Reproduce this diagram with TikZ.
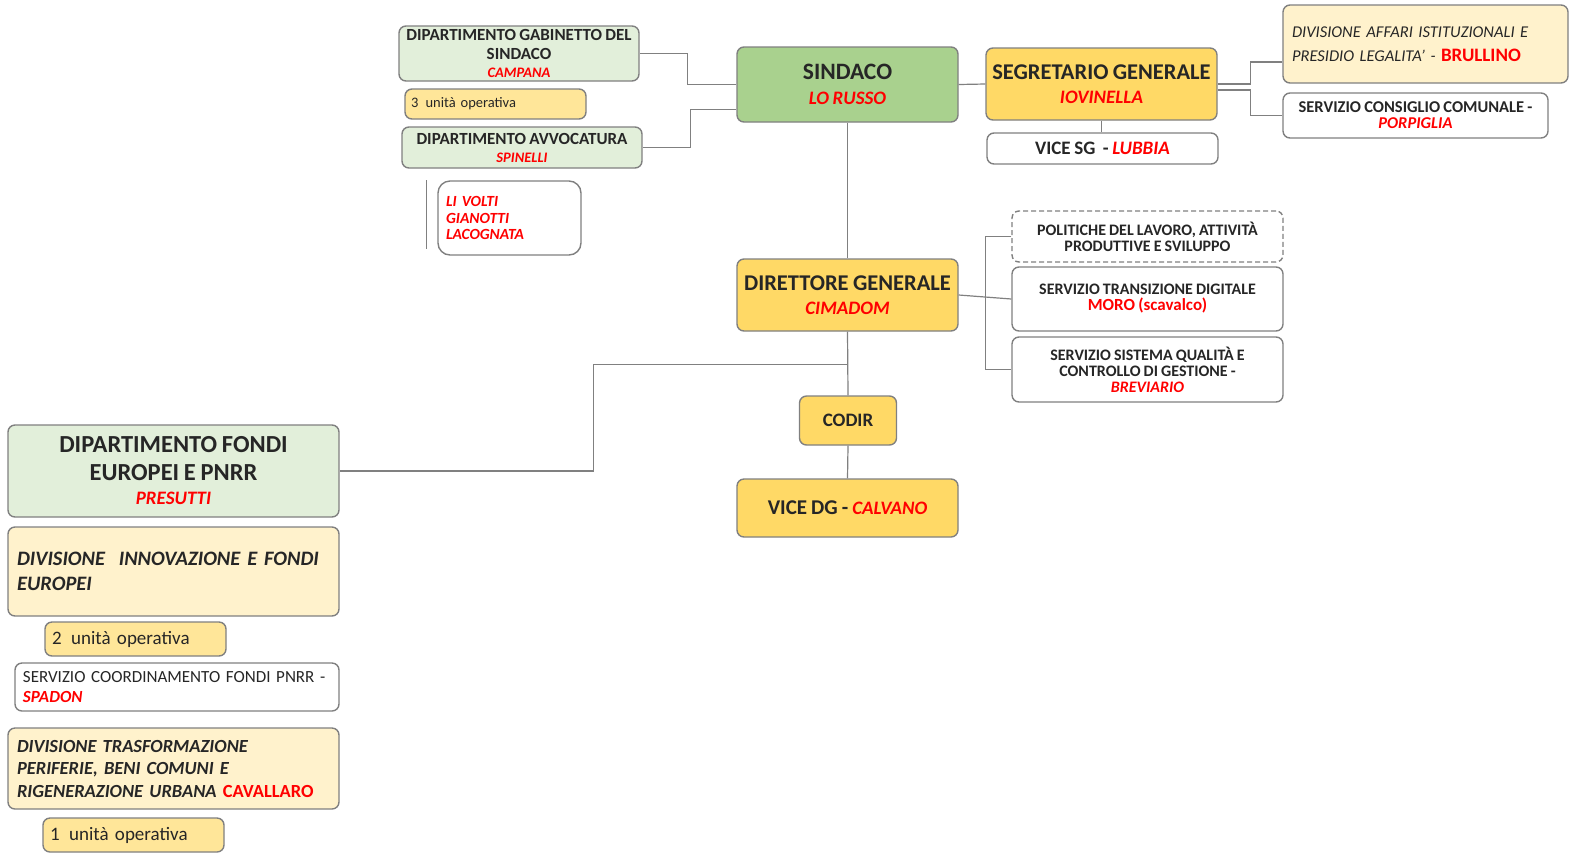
\documentclass[tikz,border=0pt]{standalone}
\usepackage{fontspec}
\setmainfont[WordSpace=0.85]{Carlito}
\usepackage{tikz}
\usetikzlibrary{positioning}
\definecolor{verde}{HTML}{A9D18E}
\definecolor{verdechiaro}{HTML}{E2EFDA}
\definecolor{giallo}{HTML}{FFD966}
\definecolor{gialloUO}{HTML}{FFE699}
\definecolor{crema}{HTML}{FFF2CC}
\definecolor{bordo}{HTML}{808080}
\definecolor{testo}{HTML}{262626}
\definecolor{rosso}{HTML}{FF0000}

\begin{document}
\begin{tikzpicture}[x=1pt,y=-1pt,line width=1.4pt,
	box/.style={draw=bordo,fill=white,rounded corners=7pt,inner sep=0pt,text=testo,align=center,font=\bfseries},
	conn/.style={draw=bordo,line width=1.2pt}]
	\useasboundingbox (0,0) rectangle (1573,855);
	
	% sindaco e dipartimenti
	\node[box,fill=verde,minimum width=221pt,minimum height=75pt,font=\bfseries\fontsize{23.5}{25}\selectfont] (sind) at (847.5,84.5)
	{SINDACO\\{\fontsize{19}{20}\selectfont\textcolor{rosso}{\itshape LO RUSSO}}};
	\node[box,fill=verdechiaro,minimum width=240pt,minimum height=55pt,font=\bfseries\fontsize{17}{18.5}\selectfont] (gab) at (519,53.5)
	{DIPARTIMENTO GABINETTO DEL\\SINDACO\\{\fontsize{14.5}{15}\selectfont\textcolor{rosso}{\itshape CAMPANA}}};
	\node[box,fill=gialloUO,minimum height=30pt,text width=169pt,inner xsep=6pt,align=left,font=\fontsize{14.5}{16}\selectfont] (uo3) at (495.5,104)
	{3\enspace unità operativa};
	\node[box,fill=verdechiaro,minimum width=240pt,minimum height=41pt,font=\bfseries\fontsize{17}{18}\selectfont] (avv) at (522,147.5)
	{DIPARTIMENTO AVVOCATURA\\{\fontsize{14.5}{15}\selectfont\textcolor{rosso}{\itshape SPINELLI}}};
	\node[box,rounded corners=12pt,minimum height=74pt,text width=127pt,inner xsep=8pt,align=left,text=rosso,font=\bfseries\itshape\fontsize{15.5}{16.5}\selectfont] (nomi) at (509.5,218)
	{LI VOLTI\\GIANOTTI\\LACOGNATA};
	
	% segreteria
	\node[box,fill=giallo,minimum width=231pt,minimum height=72pt,font=\bfseries\fontsize{22.5}{24}\selectfont] (segr) at (1101.5,84)
	{SEGRETARIO GENERALE\\{\fontsize{19}{20}\selectfont\textcolor{rosso}{\itshape IOVINELLA}}};
	\node[box,minimum width=231pt,minimum height=31pt,font=\bfseries\fontsize{19}{20}\selectfont] (vsg) at (1102.5,148.5)
	{VICE SG\ \ - \textcolor{rosso}{\itshape LUBBIA}};
	\node[box,fill=crema,minimum height=78pt,text width=267pt,inner xsep=9pt,align=left,font=\itshape\fontsize{16.5}{24}\selectfont] (aff) at (1425.5,44)
	{DIVISIONE AFFARI ISTITUZIONALI E\\PRESIDIO LEGALITA’ - {\upshape\bfseries\fontsize{19}{24}\selectfont\textcolor{rosso}{BRULLINO}}};
	\node[box,minimum width=265pt,minimum height=45pt,font=\bfseries\fontsize{16.5}{16}\selectfont] (cons) at (1415.5,115.5)
	{SERVIZIO CONSIGLIO COMUNALE -\\\textcolor{rosso}{\itshape PORPIGLIA}};
	
	% direzione generale
	\node[box,fill=giallo,minimum width=221pt,minimum height=72pt,font=\bfseries\fontsize{22.5}{24}\selectfont] (dg) at (847.5,295)
	{DIRETTORE GENERALE\\{\fontsize{19}{20}\selectfont\textcolor{rosso}{\itshape CIMADOM}}};
	\node[box,fill=giallo,minimum width=97pt,minimum height=49pt,font=\bfseries\fontsize{19}{20}\selectfont] (codir) at (848,420.5) {CODIR};
	\node[box,fill=giallo,minimum width=221pt,minimum height=58pt,font=\bfseries\fontsize{21}{22}\selectfont] (vdg) at (847.5,508)
	{VICE DG - {\fontsize{19}{20}\selectfont\textcolor{rosso}{\itshape CALVANO}}};
	\node[box,dashed,dash pattern=on 5pt off 3pt,minimum width=271pt,minimum height=51pt,font=\bfseries\fontsize{16}{16}\selectfont] (pol) at (1147.5,236.5)
	{POLITICHE DEL LAVORO, ATTIVITÀ\\PRODUTTIVE E SVILUPPO};
	\node[box,minimum width=271pt,minimum height=64pt,font=\bfseries\fontsize{16}{16}\selectfont] (td) at (1147.5,299)
	{SERVIZIO TRANSIZIONE DIGITALE\\{\fontsize{17}{16}\selectfont\textcolor{rosso}{MORO (scavalco)}}};
	\node[box,minimum width=271pt,minimum height=65pt,font=\bfseries\fontsize{16}{16}\selectfont] (sq) at (1147.5,369.5)
	{SERVIZIO SISTEMA QUALITÀ E\\CONTROLLO DI GESTIONE -\\\textcolor{rosso}{\itshape BREVIARIO}};
	
	% fondi europei
	\node[box,fill=verdechiaro,minimum width=331pt,minimum height=92pt,font=\bfseries\fontsize{24.5}{28}\selectfont] (fondi) at (173.5,471)
	{DIPARTIMENTO FONDI\\EUROPEI E PNRR\\[-4pt]{\fontsize{19}{24}\selectfont\textcolor{rosso}{\itshape PRESUTTI}}};
	\node[box,fill=crema,minimum height=89pt,text width=313pt,inner xsep=9pt,align=left,font=\bfseries\itshape\fontsize{20.5}{25}\selectfont] (inn) at (173.5,571.5)
	{DIVISIONE\ \ INNOVAZIONE E FONDI\\EUROPEI};
	\node[box,fill=gialloUO,minimum height=34pt,text width=167pt,inner xsep=7pt,align=left,font=\fontsize{19}{20}\selectfont] (uo2) at (135.5,639)
	{2\enspace unità operativa};
	\node[box,minimum height=48pt,text width=308pt,inner xsep=8pt,align=left,font=\fontsize{17}{20}\selectfont] (coord) at (177,687)
	{SERVIZIO COORDINAMENTO FONDI PNRR -\\\textcolor{rosso}{\bfseries\itshape SPADON}};
	\node[box,fill=crema,minimum height=81pt,text width=313pt,inner xsep=9pt,align=left,font=\bfseries\itshape\fontsize{18.5}{22.5}\selectfont] (trasf) at (173.5,768.5)
	{DIVISIONE TRASFORMAZIONE\\PERIFERIE, BENI COMUNI E\\RIGENERAZIONE URBANA \textcolor{rosso}{\upshape CAVALLARO}};
	\node[box,fill=gialloUO,minimum height=34pt,text width=167pt,inner xsep=7pt,align=left,font=\fontsize{19}{20}\selectfont] (uo1) at (133.5,835)
	{1\enspace unità operativa};
	
	% connettori
	\draw[conn] (sind.west) -- ++(-49,0) |- (gab.east);
	\draw[conn] ([yshift=-25pt]sind.west) -- ++(-46,0) |- (avv.east);
	\draw[conn] ([xshift=-11pt]nomi.north west) -- ([xshift=-11pt,yshift=7pt]nomi.south west);
	\draw[conn] (sind.east) -- (segr.west);
	\draw[conn] (segr.south) -- (vsg.north -| segr.south);
	\draw[conn] (segr.east) -- ++(33,0) |- ([yshift=-18pt]aff.west);
	\draw[conn] ([yshift=-6pt]segr.east) -- ++(33,0) |- (cons.west);
	\draw[conn] (sind.south) -- (dg.north);
	\draw[conn] (dg.east) -- (td.west);
	\draw[conn] (pol.west) -- ++(-26,0) |- (sq.west);
	\draw[conn] (dg.south) -- (codir.north);
	\draw[conn] (codir.south) -- (vdg.north);
	\draw[conn] ([yshift=-33pt]dg.south) -- ++(-254,0) |- (fondi.east);
\end{tikzpicture}
\end{document}
